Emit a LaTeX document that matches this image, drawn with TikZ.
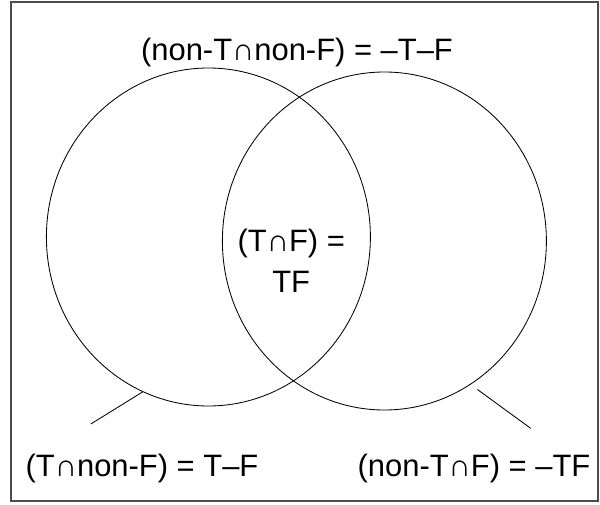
\documentclass[tikz,border=0pt]{standalone}
\usepackage{fontspec}
\setmainfont{Liberation Sans}
\usetikzlibrary{shapes.geometric}

\begin{document}
\begin{tikzpicture}[
    set/.style={draw, ellipse, line width=0.6pt, inner sep=0pt, minimum width=8.1cm, minimum height=8.45cm},
    lbl/.style={font=\fontsize{22}{29}\selectfont, inner sep=0pt}]

\useasboundingbox (0,0) rectangle (15,12.6);
\draw[black!70, line width=0.8pt] (0.275,0.075) rectangle (14.95,12.55);

\node[set] (T) at (5.21,6.675) {};
\node[set] (F) at (9.61,6.575) {};

\node[lbl, anchor=base] (none) at (7.425,11.08) {(non-T∩non-F) = –T–F};
\node[lbl, align=center] (both) at (7.28,6.075) {(T∩F) =\\TF};
\node[lbl, anchor=base] (tonly) at (3.55,0.6825) {(T∩non-F) = T–F};
\node[lbl, anchor=base] (fonly) at (11.85,0.6825) {(non-T∩F) = –TF};

\coordinate (tend) at (2.27,2.0);
\coordinate (fend) at (13.27,1.89);
\draw[line width=0.6pt] (T.247) -- (tend);
\draw[line width=0.6pt, shorten <=0.21cm] (F.301) -- (fend);

\end{tikzpicture}
\end{document}
